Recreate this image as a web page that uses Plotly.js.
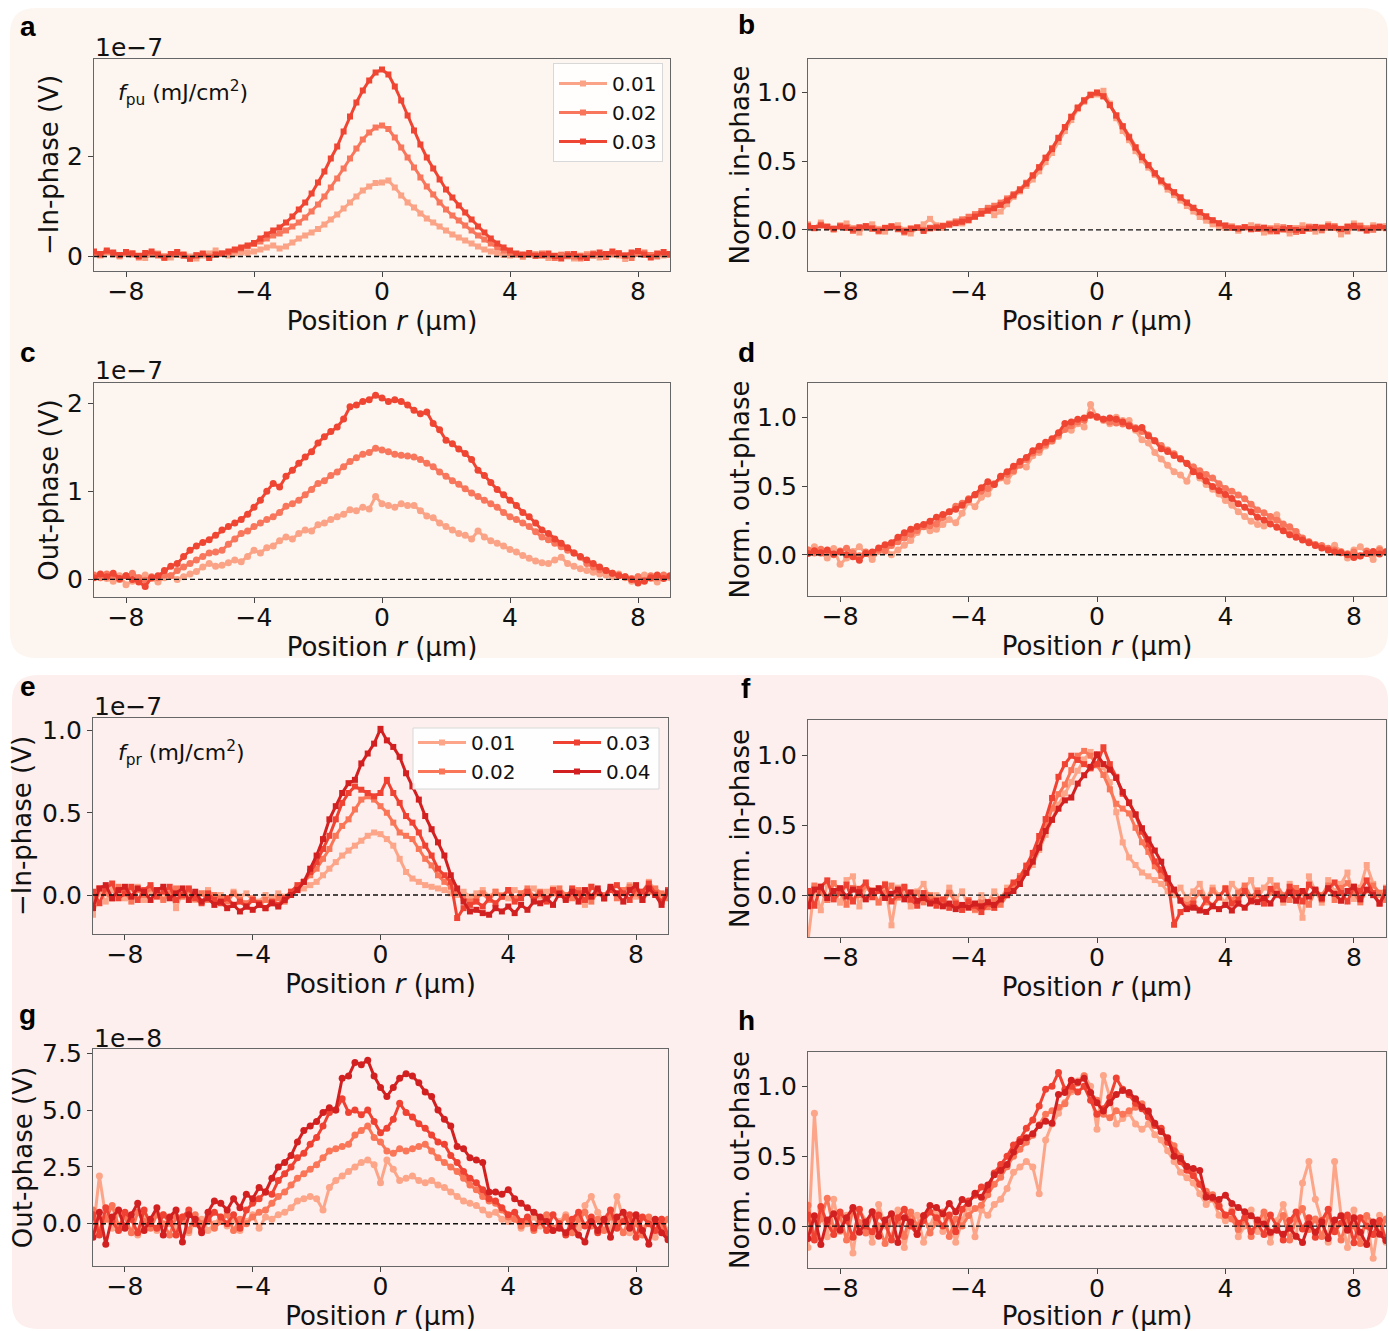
<!DOCTYPE html>
<html>
<head>
<meta charset="utf-8">
<script src="https://cdn.plot.ly/plotly-3.0.1.min.js"></script>
<style>html,body{margin:0;padding:0;background:#fff;}#chart{width:1389px;height:1331px;}</style>
</head>
<body>
<div id="chart"></div>
<script>
// ---------------- DATA ----------------
// Position r (µm)
const X = [
-9,-8.8,-8.6,-8.4,-8.2,-8,-7.8,-7.6,-7.4,-7.2,
-7,-6.8,-6.6,-6.4,-6.2,-6,-5.8,-5.6,-5.4,-5.2,
-5,-4.8,-4.6,-4.4,-4.2,-4,-3.8,-3.6,-3.4,-3.2,
-3,-2.8,-2.6,-2.4,-2.2,-2,-1.8,-1.6,-1.4,-1.2,
-1,-0.8,-0.6,-0.4,-0.2,0,0.2,0.4,0.6,0.8,
1,1.2,1.4,1.6,1.8,2,2.2,2.4,2.6,2.8,
3,3.2,3.4,3.6,3.8,4,4.2,4.4,4.6,4.8,
5,5.2,5.4,5.6,5.8,6,6.2,6.4,6.6,6.8,
7,7.2,7.4,7.6,7.8,8,8.2,8.4,8.6,8.8,
9];

// Panel a: -In-phase (x1e-7 V), pump fluence series
const fluencePu = ['0.01','0.02','0.03'];
const inPu001 = [
0.06,0.02,0.08,0.04,0.00,0.05,0.07,0.02,-0.03,0.04,
0.06,0.01,-0.02,0.03,0.05,0.00,-0.04,0.02,0.06,0.12,
0.05,0.02,0.06,0.08,0.07,0.10,0.14,0.18,0.22,0.16,
0.20,0.28,0.36,0.42,0.48,0.55,0.64,0.74,0.84,0.96,
1.08,1.20,1.32,1.40,1.47,1.48,1.52,1.38,1.22,1.08,
0.98,0.86,0.76,0.68,0.60,0.52,0.44,0.38,0.32,0.26,
0.20,0.14,0.10,0.06,0.03,0.02,0.04,-0.01,0.03,0.05,
0.01,-0.03,0.02,0.04,0.00,-0.04,0.02,0.05,0.01,-0.02,
0.03,0.06,0.02,-0.05,0.04,0.07,0.03,0.00,0.05,0.02,
0.04];
const inPu002 = [
0.08,0.03,0.10,0.05,0.02,0.07,0.04,-0.02,0.03,0.06,
0.02,-0.03,0.04,0.07,0.01,-0.05,0.03,0.05,0.00,0.04,
0.06,0.08,0.12,0.16,0.20,0.25,0.30,0.36,0.42,0.46,
0.52,0.60,0.68,0.78,0.90,1.04,1.20,1.38,1.56,1.76,
1.96,2.16,2.34,2.48,2.58,2.62,2.55,2.38,2.18,1.98,
1.78,1.58,1.40,1.24,1.08,0.94,0.82,0.72,0.62,0.52,
0.42,0.34,0.26,0.18,0.12,0.07,0.04,0.02,0.05,0.01,
0.06,0.02,-0.03,0.03,0.05,0.00,-0.04,0.02,0.06,0.03,
-0.01,0.04,0.07,0.02,-0.03,0.05,0.08,0.03,0.00,0.05,
0.03];
const inPu003 = [
0.10,0.05,0.12,0.08,0.03,0.09,0.06,0.01,0.07,0.10,
0.04,-0.02,0.05,0.09,0.03,-0.04,0.02,0.06,-0.03,0.04,
0.06,0.10,0.14,0.18,0.22,0.27,0.36,0.44,0.52,0.58,
0.68,0.80,0.94,1.08,1.26,1.48,1.70,1.96,2.20,2.50,
2.80,3.08,3.32,3.52,3.68,3.74,3.64,3.40,3.12,2.82,
2.52,2.24,1.98,1.76,1.54,1.34,1.18,1.02,0.88,0.74,
0.60,0.48,0.36,0.26,0.18,0.12,0.06,0.04,0.07,0.02,
0.03,0.06,0.01,-0.04,0.02,0.05,0.00,-0.03,0.04,0.08,
0.05,0.10,0.06,0.02,0.08,0.11,0.04,-0.02,0.06,0.09,
0.05];
const inPuPeak = [1.50, 2.62, 3.74];

// Panel c: Out-phase (x1e-7 V), pump fluence series
const outPu001 = [
0.03,0.05,0.01,-0.02,0.04,-0.06,-0.02,0.02,0.05,0.01,
-0.03,0.02,0.04,0.00,0.03,0.06,0.09,0.14,0.18,0.15,
0.16,0.19,0.22,0.20,0.26,0.33,0.30,0.36,0.38,0.44,
0.48,0.46,0.52,0.56,0.55,0.62,0.64,0.68,0.71,0.74,
0.79,0.78,0.82,0.80,0.94,0.86,0.84,0.82,0.86,0.84,
0.84,0.78,0.72,0.70,0.64,0.60,0.56,0.52,0.50,0.46,
0.55,0.48,0.44,0.41,0.38,0.34,0.31,0.27,0.24,0.21,
0.19,0.18,0.22,0.25,0.18,0.15,0.12,0.10,0.08,0.06,
0.05,0.03,0.06,0.02,-0.02,0.03,0.05,0.01,-0.03,0.04,
0.02];
const outPu002 = [
0.05,0.02,0.06,0.03,0.00,0.04,0.07,0.02,-0.01,0.03,
0.02,0.05,0.04,0.10,0.14,0.18,0.22,0.26,0.30,0.31,
0.33,0.40,0.46,0.52,0.55,0.60,0.64,0.68,0.71,0.76,
0.83,0.86,0.90,0.96,1.02,1.09,1.12,1.18,1.22,1.28,
1.34,1.38,1.42,1.44,1.49,1.47,1.45,1.42,1.41,1.40,
1.39,1.36,1.32,1.28,1.22,1.17,1.12,1.08,1.03,0.98,
0.94,0.90,0.86,0.82,0.76,0.71,0.68,0.64,0.60,0.54,
0.48,0.45,0.41,0.37,0.33,0.30,0.25,0.18,0.14,0.11,
0.10,0.07,0.05,0.03,0.01,0.03,-0.01,0.04,0.02,0.05,
0.03];
const outPu003 = [
0.02,0.06,0.03,0.07,0.01,0.04,0.00,-0.03,-0.08,0.02,
0.04,0.10,0.15,0.18,0.26,0.33,0.38,0.42,0.45,0.50,
0.56,0.60,0.64,0.68,0.74,0.82,0.90,1.00,1.09,1.05,
1.17,1.24,1.32,1.39,1.45,1.55,1.62,1.68,1.73,1.82,
1.96,1.98,2.02,2.04,2.09,2.06,2.02,2.04,2.02,1.98,
1.92,1.88,1.90,1.77,1.70,1.58,1.54,1.48,1.43,1.36,
1.24,1.18,1.10,1.02,0.96,0.90,0.84,0.76,0.71,0.64,
0.56,0.52,0.46,0.41,0.36,0.30,0.26,0.22,0.18,0.14,
0.10,0.07,0.04,0.03,0.00,-0.04,-0.02,0.02,0.05,0.01,
0.04];
const outPuPeak = [0.86, 1.47, 2.05];

// Panel e: -In-phase (x1e-7 V), probe fluence series
const fluencePr = ['0.01','0.02','0.03','0.04'];
const inPr001 = [
-0.12,0.02,-0.04,0.03,0.01,-0.02,0.04,0.05,-0.03,0.02,
0.01,-0.02,0.03,-0.08,0.02,0.00,-0.03,0.01,0.03,-0.01,
0.00,-0.02,0.02,-0.01,0.01,-0.03,-0.04,0.00,-0.02,0.01,
-0.01,0.02,0.03,0.04,0.06,0.08,0.12,0.16,0.20,0.24,
0.27,0.30,0.33,0.36,0.38,0.37,0.34,0.30,0.22,0.14,
0.10,0.08,0.06,0.05,0.04,0.03,0.01,0.00,0.02,-0.01,
0.01,0.03,-0.01,0.02,0.00,-0.02,0.03,0.01,0.02,0.04,
-0.01,0.02,0.04,0.01,-0.02,0.03,0.00,-0.06,0.05,0.01,
-0.02,0.04,0.01,0.03,0.06,-0.01,0.02,0.08,0.03,0.00,
0.02];
const inPr002 = [
-0.03,0.04,0.01,-0.02,0.05,0.02,-0.04,0.03,0.00,0.04,
0.02,-0.03,0.01,0.04,-0.01,0.03,-0.02,0.01,-0.03,0.00,
-0.02,-0.04,0.01,-0.03,-0.05,-0.02,-0.06,-0.03,-0.05,-0.02,
-0.04,0.00,0.04,0.08,0.12,0.16,0.22,0.28,0.36,0.42,
0.46,0.52,0.58,0.60,0.58,0.54,0.50,0.44,0.38,0.36,
0.34,0.28,0.22,0.18,0.12,0.08,0.05,0.02,-0.02,-0.04,
-0.02,0.01,-0.03,0.02,-0.01,0.03,-0.02,0.01,0.04,-0.01,
0.02,-0.03,0.01,0.04,0.00,-0.02,0.03,0.01,-0.04,0.02,
0.00,0.04,-0.02,0.03,0.05,0.01,-0.03,0.02,0.04,0.01,
-0.02];
const inPr003 = [
0.02,-0.05,0.04,0.07,-0.02,0.01,0.05,-0.03,0.03,0.06,
-0.01,0.02,0.05,-0.03,0.00,0.04,-0.02,-0.05,0.01,-0.03,
-0.05,-0.02,-0.06,-0.04,-0.07,-0.03,-0.05,-0.08,-0.04,-0.06,
-0.02,0.02,0.06,0.08,0.14,0.20,0.28,0.36,0.46,0.56,
0.62,0.66,0.64,0.62,0.60,0.62,0.70,0.62,0.56,0.48,
0.44,0.38,0.30,0.24,0.16,0.12,0.08,-0.14,-0.08,-0.06,
-0.04,-0.07,-0.02,-0.05,-0.01,0.03,-0.04,-0.02,0.02,-0.03,
0.01,-0.04,0.03,0.00,-0.02,0.04,0.01,-0.03,0.05,0.02,
-0.02,0.03,0.06,0.01,-0.03,0.04,0.02,0.07,0.01,-0.04,
0.03];
const inPr004 = [
-0.08,0.04,0.06,-0.02,0.03,0.05,-0.01,0.04,0.02,-0.03,
0.03,0.05,-0.02,0.01,0.04,-0.03,0.02,-0.04,-0.02,-0.06,
-0.04,-0.08,-0.06,-0.10,-0.07,-0.09,-0.06,-0.08,-0.05,-0.07,
-0.03,0.00,0.03,0.08,0.16,0.24,0.34,0.46,0.54,0.62,
0.68,0.70,0.80,0.86,0.92,1.01,0.94,0.90,0.84,0.74,
0.66,0.58,0.48,0.40,0.32,0.24,0.12,0.04,-0.04,-0.10,
-0.09,-0.11,-0.12,-0.08,-0.10,-0.07,-0.11,-0.06,-0.09,-0.04,
-0.05,-0.02,-0.06,0.01,-0.03,0.02,-0.04,0.03,-0.01,0.04,
-0.02,0.05,0.01,-0.04,0.03,0.06,-0.03,0.04,0.00,-0.06,
0.02];
const inPrPeak = [0.37, 0.58, 0.66, 1.00];

// Panel g: Out-phase (x1e-8 V), probe fluence series
const outPr001 = [
-0.4,2.1,0.3,-0.2,0.5,-0.1,0.2,-0.5,0.3,0.1,
-0.3,0.4,0.0,-0.2,0.3,-0.4,0.1,0.2,-0.3,0.0,
0.3,-0.1,0.2,-0.3,0.1,0.4,-0.2,0.3,0.2,0.4,
0.5,0.7,1.0,1.1,1.2,1.1,0.6,1.6,1.9,2.1,
2.3,2.5,2.7,2.8,2.6,1.8,2.8,2.4,1.9,2.0,
2.1,1.9,1.8,1.9,1.7,1.6,1.4,1.2,1.0,0.9,
0.8,0.6,0.4,0.5,0.2,0.1,0.3,-0.2,0.0,0.3,
-0.1,0.2,-0.3,0.1,0.4,0.0,-0.2,0.8,1.2,0.5,
0.1,-0.3,1.2,0.2,-0.4,0.3,-0.2,0.1,-0.6,0.2,
-0.3];
const outPr002 = [
0.6,-0.3,0.2,0.8,-0.1,0.3,-0.4,0.5,0.1,-0.2,
0.4,0.0,-0.5,0.3,0.2,-0.3,0.4,0.0,0.3,-0.2,
0.1,0.4,-0.3,0.2,0.0,0.3,0.5,0.6,0.9,1.2,
1.4,1.7,2.0,2.2,2.4,2.6,2.9,3.2,3.3,3.4,
3.5,3.9,4.1,4.3,3.8,3.6,3.2,3.1,3.3,3.2,
3.3,3.4,3.5,3.2,2.9,2.7,2.5,2.3,2.0,1.7,
1.5,1.2,1.0,0.9,0.6,0.3,0.2,-0.1,0.2,-0.3,
0.1,0.4,-0.2,0.0,0.3,-0.4,0.2,0.5,-0.1,0.2,
-0.3,0.3,0.1,-0.4,0.2,0.0,-0.5,0.3,0.1,-0.2,
0.2];
const outPr003 = [
0.4,-0.5,0.7,0.1,-0.3,0.5,0.2,-0.4,0.6,0.0,
-0.2,0.4,0.1,-0.5,0.3,0.6,0.0,-0.3,0.2,0.5,
0.3,0.0,0.4,-0.2,0.6,0.9,1.1,1.4,1.3,1.9,
2.2,2.5,2.9,3.1,3.5,3.8,4.3,4.9,5.0,5.5,
4.9,5.0,4.8,5.0,4.5,4.0,4.2,4.6,5.3,4.9,
4.7,4.4,4.2,3.9,3.6,3.5,3.0,2.7,2.3,2.0,
1.8,1.5,1.1,1.0,0.7,0.4,0.5,0.1,0.3,-0.2,
0.1,-0.3,0.4,0.0,-0.5,0.2,0.5,-0.1,0.3,-0.4,
0.2,0.6,-0.2,0.1,0.4,-0.6,0.3,0.0,-0.3,0.2,
-0.5];
const outPr004 = [
-0.6,0.5,-0.9,0.3,0.6,-0.2,0.4,0.9,-0.3,0.2,
0.7,-0.5,0.3,0.6,-0.8,0.4,0.2,-0.4,0.5,1.0,
0.9,0.6,1.1,0.7,1.3,1.1,1.6,1.4,2.0,2.5,
2.7,3.0,3.6,4.1,4.3,4.5,4.9,5.1,5.0,6.4,
6.5,7.1,7.0,7.2,6.5,6.0,5.6,6.0,6.4,6.6,
6.5,6.2,5.8,5.6,5.0,4.6,4.3,3.4,3.3,2.9,
2.8,2.7,1.4,1.4,1.3,1.5,1.1,0.9,0.7,0.5,
0.3,0.1,-0.3,-0.2,-0.4,-0.1,-0.5,-0.8,0.1,-0.3,
0.2,-0.6,0.3,0.5,-0.2,0.4,-0.3,-0.9,0.2,-0.4,
-0.7];
const outPrPeak = [2.6, 4.0, 5.0, 6.8];

// Tick labels
const xTickVals = [-8,-4,0,4,8];
const xTickText = ['\u22128','\u22124','0','4','8'];

// ---------------- LAYOUT HELPERS ----------------
const W = 1389, H = 1331;
const px = p => p / W;
const py = p => 1 - p / H;

const colPu = ['#fba386','#f7765c','#ef4533'];
const colPr = ['#fca588','#fa7658','#ef4232','#d22020'];

function norm(arr, peak){ return arr.map(v => v / peak); }

const panels = [
  {n:1, box:[94,670,59,271], yr:[-0.29,3.95], yt:[0,2], ytt:['0','2'], title:'\u2212In-phase (V)',
   ser:[inPu001,inPu002,inPu003], names:fluencePu, col:colPu, sym:'square', leg:['legend','legend','legend'], std:0, xstd:4},
  {n:2, box:[808,1386,59,271], yr:[-0.30,1.245], yt:[0,0.5,1], ytt:['0.0','0.5','1.0'], title:'Norm. in-phase',
   ser:[norm(inPu001,inPuPeak[0]),norm(inPu002,inPuPeak[1]),norm(inPu003,inPuPeak[2])], names:fluencePu, col:colPu, sym:'square', std:0, xstd:4},
  {n:3, box:[94,670,383,597], yr:[-0.20,2.23], yt:[0,1,2], ytt:['0','1','2'], title:'Out-phase (V)',
   ser:[outPu001,outPu002,outPu003], names:fluencePu, col:colPu, sym:'circle', std:0, xstd:4},
  {n:4, box:[808,1386,383,596], yr:[-0.30,1.25], yt:[0,0.5,1], ytt:['0.0','0.5','1.0'], title:'Norm. out-phase',
   ser:[norm(outPu001,outPuPeak[0]),norm(outPu002,outPuPeak[1]),norm(outPu003,outPuPeak[2])], names:fluencePu, col:colPu, sym:'circle', std:0, xstd:4},
  {n:5, box:[93,668,718,934], yr:[-0.237,1.076], yt:[0,0.5,1], ytt:['0.0','0.5','1.0'], title:'\u2212In-phase (V)',
   ser:[inPr001,inPr002,inPr003,inPr004], names:fluencePr, col:colPr, sym:'square', leg:['legend2','legend2','legend3','legend3'], std:3, xstd:4},
  {n:6, box:[808,1386,720,937], yr:[-0.30,1.256], yt:[0,0.5,1], ytt:['0.0','0.5','1.0'], title:'Norm. in-phase',
   ser:[norm(inPr001,inPrPeak[0]),norm(inPr002,inPrPeak[1]),norm(inPr003,inPrPeak[2]),norm(inPr004,inPrPeak[3])], names:fluencePr, col:colPr, sym:'square', std:0, xstd:4},
  {n:7, box:[93,668,1049,1266], yr:[-1.86,7.69], yt:[0,2.5,5,7.5], ytt:['0.0','2.5','5.0','7.5'], title:'Out-phase (V)',
   ser:[outPr001,outPr002,outPr003,outPr004], names:fluencePr, col:colPr, sym:'circle', std:2, xstd:4},
  {n:8, box:[808,1386,1052,1268], yr:[-0.30,1.246], yt:[0,0.5,1], ytt:['0.0','0.5','1.0'], title:'Norm. out-phase',
   ser:[norm(outPr001,outPrPeak[0]),norm(outPr002,outPrPeak[1]),norm(outPr003,outPrPeak[2]),norm(outPr004,outPrPeak[3])], names:fluencePr, col:colPr, sym:'circle', std:0, xstd:6}
];

const FONT = 'DejaVu Sans, sans-serif';
const traces = [];
const layout = {
  width: W, height: H,
  margin: {l:0, r:0, t:0, b:0},
  paper_bgcolor: '#ffffff',
  plot_bgcolor: 'rgba(0,0,0,0)',
  font: {family: FONT, color: '#000', size: 22},
  showlegend: true,
  shapes: [], annotations: []
};

function roundRect(x0,y0,x1,y1,r,fill){
  const rx = r / W, ry = r / H;
  const X0 = px(x0), X1 = px(x1), Y0 = py(y0), Y1 = py(y1);
  const path = `M ${X0+rx},${Y0} L ${X1-rx},${Y0} Q ${X1},${Y0} ${X1},${Y0-ry} L ${X1},${Y1+ry} Q ${X1},${Y1} ${X1-rx},${Y1} L ${X0+rx},${Y1} Q ${X0},${Y1} ${X0},${Y1+ry} L ${X0},${Y0-ry} Q ${X0},${Y0} ${X0+rx},${Y0} Z`;
  return {type:'path', xref:'paper', yref:'paper', path, fillcolor:fill, line:{width:0}, layer:'below'};
}
layout.shapes.push(roundRect(10,8,1388,658,26,'#fdf5ef'));
layout.shapes.push(roundRect(12,675,1388,1329,26,'#fcefee'));

panels.forEach(p => {
  const xs = p.n === 1 ? '' : String(p.n);
  const [x0,x1,y0,y1] = p.box;
  layout['xaxis'+xs] = {
    domain:[px(x0), px(x1)], anchor:'y'+xs, range:[-9,9],
    tickvals:xTickVals, ticktext:xTickText, ticks:'outside', ticklen:5, tickwidth:1, tickcolor:'#444',
    ticklabelstandoff:-7,
    showline:true, mirror:true, linecolor:'#666', linewidth:1.2, showgrid:false, zeroline:false,
    tickfont:{size:25, family:FONT, color:'#111'},
    title:{text:'Position <i>r</i> (\u00b5m)', font:{size:26, family:FONT, color:'#111'}, standoff:p.xstd},
    automargin:false, fixedrange:true
  };
  layout['yaxis'+xs] = {
    domain:[py(y1), py(y0)], anchor:'x'+xs, range:p.yr,
    tickvals:p.yt, ticktext:p.ytt, ticks:'outside', ticklen:5, tickwidth:1, tickcolor:'#444',
    showline:true, mirror:true, linecolor:'#666', linewidth:1.2, showgrid:false, zeroline:false,
    tickfont:{size:25, family:FONT, color:'#111'},
    title:{text:p.title, font:{size:26, family:FONT, color:'#111'}, standoff:p.std},
    automargin:false, fixedrange:true
  };
  p.ser.forEach((s,i) => {
    const t = {
      type:'scatter', mode:'lines+markers', x:X, y:s, name:p.names[i],
      xaxis:'x'+xs, yaxis:'y'+xs,
      line:{color:p.col[i], width:3},
      marker:{symbol:p.sym, size:p.sym==='square'?6:7, color:p.col[i]},
      showlegend: !!p.leg, hoverinfo:'skip'
    };
    if (p.leg) t.legend = p.leg[i];
    traces.push(t);
  });
  // dashed zero line
  layout.shapes.push({type:'line', xref:(p.n===1?'x':'x'+xs)+' domain', x0:0, x1:1,
    yref:'y'+xs, y0:0, y1:0, line:{color:'#111', width:1.3, dash:'5px,3px'}, layer:'above'});
});

// legend a
layout.legend = {x:px(553), y:py(63), xanchor:'left', yanchor:'top', bgcolor:'rgba(255,255,255,0.85)',
  bordercolor:'#d8d8d8', borderwidth:1, font:{size:20, family:FONT, color:'#111'}, traceorder:'normal',
  itemwidth:48, itemclick:false, itemdoubleclick:false};
// legend e (two columns on a shared box)
layout.shapes.push({type:'rect', xref:'paper', yref:'paper', x0:px(413), x1:px(659), y0:py(728), y1:py(789),
  fillcolor:'rgba(255,255,255,0.9)', line:{color:'#d8d8d8', width:1}, layer:'above'});
layout.legend2 = {x:px(413), y:py(723), xanchor:'left', yanchor:'top', bgcolor:'rgba(0,0,0,0)', borderwidth:0,
  font:{size:20, family:FONT, color:'#111'}, traceorder:'normal', itemwidth:48, itemclick:false, itemdoubleclick:false};
layout.legend3 = {x:px(548), y:py(723), xanchor:'left', yanchor:'top', bgcolor:'rgba(0,0,0,0)', borderwidth:0,
  font:{size:20, family:FONT, color:'#111'}, traceorder:'normal', itemwidth:48, itemclick:false, itemdoubleclick:false};

// panel letters
const letters = [['a',28,26],['b',746,25],['c',28,353],['d',746,353],['e',28,686],['f',746,688],['g',28,1014],['h',746,1020]];
letters.forEach(([t,x,y]) => layout.annotations.push({text:'<b>'+t+'</b>', xref:'paper', yref:'paper', x:px(x), y:py(y),
  xanchor:'center', yanchor:'middle', showarrow:false, font:{size:28, family:'Liberation Sans, Arial, sans-serif', color:'#000'}}));

// offset (exponent) labels
const expo = [['1e\u22127',93,47],['1e\u22127',93,371],['1e\u22127',92,706],['1e\u22128',92,1038]];
expo.forEach(([t,x,y]) => layout.annotations.push({text:t, xref:'paper', yref:'paper', x:px(x), y:py(y),
  xanchor:'left', yanchor:'middle', showarrow:false, font:{size:25, family:FONT, color:'#111'}}));

// fluence labels
layout.annotations.push({text:'<i>f</i><sub>pu</sub> (mJ/cm<sup>2</sup>)', xref:'paper', yref:'paper', x:px(116), y:py(93),
  xanchor:'left', yanchor:'middle', showarrow:false, font:{size:22, family:FONT, color:'#111'}});
layout.annotations.push({text:'<i>f</i><sub>pr</sub> (mJ/cm<sup>2</sup>)', xref:'paper', yref:'paper', x:px(116), y:py(753),
  xanchor:'left', yanchor:'middle', showarrow:false, font:{size:22, family:FONT, color:'#111'}});

Plotly.newPlot('chart', traces, layout, {staticPlot:true, displayModeBar:false});
</script>
</body>
</html>
